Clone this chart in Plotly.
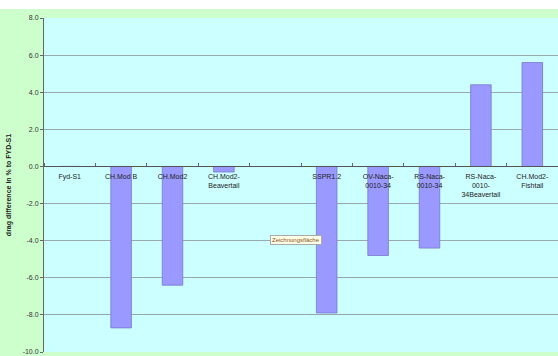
import plotly.graph_objects as go

# Drag difference of each hull variant relative to the Fyd-S1 baseline
categories = [
    "Fyd-S1",
    "CH.Mod B",
    "CH.Mod2",
    "CH.Mod2-<br>Beavertail",
    "",
    "SSPR1.2",
    "OV-Naca-<br>0010-34",
    "RS-Naca-<br>0010-34",
    "RS-Naca-<br>0010-<br>34Beavertail",
    "CH.Mod2-<br>Fishtail",
]
drag_diff = [0.0, -8.7, -6.4, -0.3, None, -7.9, -4.8, -4.4, 4.4, 5.6]
y_ticks = [8, 6, 4, 2, 0, -2, -4, -6, -8, -10]

positions = list(range(len(categories)))
y_min, y_max = -10, 8

fig = go.Figure(
    go.Bar(
        x=positions,
        y=drag_diff,
        width=0.4,
        marker=dict(color="#9999ff", line=dict(color="#7777cc", width=0.8)),
    )
)

font = "Liberation Sans, Arial, sans-serif"

fig.update_layout(
    width=558,
    height=356,
    margin=dict(l=44, r=0, t=18, b=4),
    paper_bgcolor="white",
    plot_bgcolor="#ccffff",
    showlegend=False,
    font=dict(family=font, size=7, color="#222222"),
    xaxis=dict(
        range=[-0.5, len(categories) - 0.5],
        tickvals=positions,
        ticktext=categories,
        ticks="",
        anchor="free",
        position=(0 - y_min) / (y_max - y_min),
        showline=True,
        linecolor="#555555",
        linewidth=1,
        showgrid=False,
        zeroline=False,
        tickfont=dict(size=7, color="#222222"),
        ticklabelstandoff=3,
        minor=dict(
            tickvals=[p - 0.5 for p in positions] + [len(categories) - 0.5],
            ticks="inside",
            ticklen=3,
            tickcolor="#666666",
            showgrid=False,
        ),
        fixedrange=True,
    ),
    yaxis=dict(
        range=[y_min, y_max],
        tickvals=y_ticks,
        ticktext=[f"{v:.1f}" for v in y_ticks],
        showgrid=True,
        gridcolor="#99aaaa",
        gridwidth=1,
        zeroline=False,
        showline=True,
        linecolor="#666666",
        ticks="outside",
        ticklen=3,
        tickcolor="#666666",
        tickfont=dict(size=7, color="#333333"),
        title=dict(
            text="<b>drag difference in % to FYD-S1</b>",
            font=dict(size=7, color="#222222"),
            standoff=10,
        ),
    ),
    shapes=[
        # green chart-area background, leaving a white strip along the top
        dict(
            type="rect", xref="paper", yref="paper",
            x0=-0.1, x1=1.0, y0=-0.05, y1=1.027,
            fillcolor="#ccffcc", line=dict(width=0), layer="below",
        ),
        # cyan plot area on top of the green
        dict(
            type="rect", xref="paper", yref="paper",
            x0=0, x1=1, y0=0, y1=1,
            fillcolor="#ccffff", line=dict(width=0), layer="below",
        ),
    ],
    annotations=[
        dict(
            text="Zeichnungsfläche",
            xref="paper", yref="paper",
            x=0.49, y=0.32,
            showarrow=False,
            font=dict(size=6, color="#885522", family=font),
            bgcolor="#ffffe8",
            bordercolor="#aaaaaa",
            borderwidth=1,
            borderpad=1,
        )
    ],
)

fig.write_html("out.html")
